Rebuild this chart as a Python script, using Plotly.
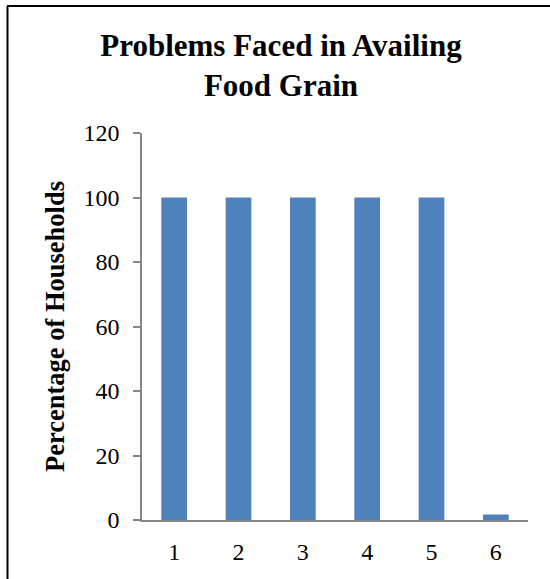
import plotly.graph_objects as go

categories = ["1", "2", "3", "4", "5", "6"]
values = [100, 100, 100, 100, 100, 1.7]
y_ticks = [0, 20, 40, 60, 80, 100, 120]

W, H = 550, 579
ml, mr, mt, mb = 142, 22, 133, 59
pw, ph = W - ml - mr, H - mt - mb

def px_x(x):
    return (x - ml) / pw

def px_y(y):
    return (H - mb - y) / ph

fig = go.Figure(go.Bar(x=categories, y=values, marker=dict(color="#4F81BD", line=dict(width=0))))

fig.update_layout(
    width=W, height=H,
    margin=dict(l=ml, r=mr, t=mt, b=mb),
    paper_bgcolor="white", plot_bgcolor="white",
    bargap=0.6,
    showlegend=False,
    font=dict(family="Liberation Serif, Times New Roman, serif", color="black"),
    title=dict(
        text="<b>Problems Faced in Availing<br>Food Grain</b>",
        x=281 / W, xanchor="center", y=1 - 56 / H, yanchor="middle",
        font=dict(size=31, family="Liberation Serif, Times New Roman, serif", color="black"),
    ),
    xaxis=dict(
        type="category", showline=True, linecolor="#868686", linewidth=1.5,
        ticks="", showgrid=False, tickfont=dict(size=24), ticklabelstandoff=9,
    ),
    yaxis=dict(
        range=[0, 120], tickvals=y_ticks, showline=True, linecolor="#868686", linewidth=1.5,
        ticks="outside", ticklen=7, tickcolor="#868686", tickwidth=1.5,
        showgrid=False, zeroline=False, tickfont=dict(size=24), ticklabelstandoff=9,
        title=dict(text="<b>Percentage of Households</b>", font=dict(size=26.5), standoff=11),
    ),
    shapes=[
        dict(type="line", xref="paper", yref="paper", x0=px_x(7), x1=px_x(560), y0=px_y(6), y1=px_y(6),
             line=dict(color="black", width=2)),
        dict(type="line", xref="paper", yref="paper", x0=px_x(7.5), x1=px_x(7.5), y0=px_y(6), y1=px_y(600),
             line=dict(color="black", width=2)),
    ],
)

fig.write_html(
    "out.html",
    config={"displayModeBar": False},
    post_script="document.body.style.margin='0';document.body.style.overflow='hidden';",
)
